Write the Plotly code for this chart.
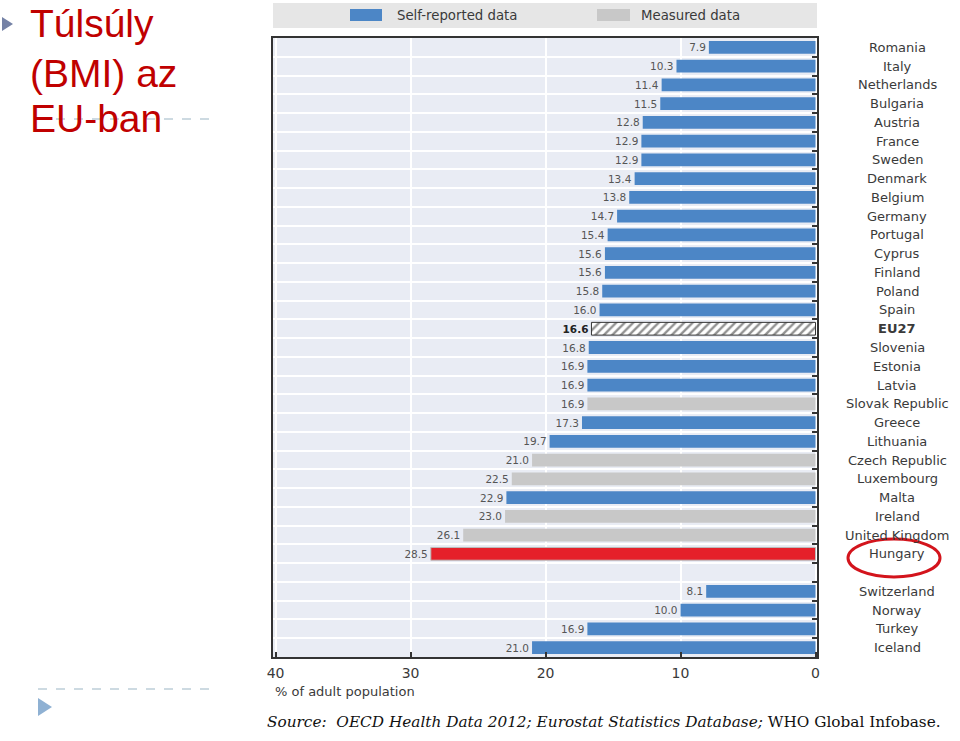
import plotly.graph_objects as go

# ---------------- data ----------------
countries = ["Romania", "Italy", "Netherlands", "Bulgaria", "Austria", "France", "Sweden",
             "Denmark", "Belgium", "Germany", "Portugal", "Cyprus", "Finland", "Poland",
             "Spain", "EU27", "Slovenia", "Estonia", "Latvia", "Slovak Republic", "Greece",
             "Lithuania", "Czech Republic", "Luxembourg", "Malta", "Ireland",
             "United Kingdom", "Hungary", "_gap_", "Switzerland", "Norway", "Turkey", "Iceland"]
values = [7.9, 10.3, 11.4, 11.5, 12.8, 12.9, 12.9, 13.4, 13.8, 14.7, 15.4, 15.6, 15.6, 15.8,
          16.0, 16.6, 16.8, 16.9, 16.9, 16.9, 17.3, 19.7, 21.0, 22.5, 22.9, 23.0, 26.1, 28.5,
          None, 8.1, 10.0, 16.9, 21.0]
# S = self-reported, M = measured, E = EU average, H = highlighted (Hungary)
data_type = ["S", "S", "S", "S", "S", "S", "S", "S", "S", "S", "S", "S", "S", "S", "S",
             "E", "S", "S", "S", "M", "S", "S", "M", "M", "S", "M", "M", "H",
             None, "S", "S", "S", "S"]
x_ticks = [0, 10, 20, 30, 40]
legend_labels = ["Self-reported data", "Measured data"]
title_lines = ["Túlsúly", "(BMI) az", "EU-ban"]
source_html = ("<i>Source:  OECD Health Data 2012; Eurostat Statistics Database;</i> "
               "WHO Global Infobase.")
x_title = "% of adult population"

# ---------------- layout helpers ----------------
W, H = 960, 741
L, R, T, B = 273, 817, 38, 657


def px(x):
    return (x - L) / (R - L)


def py(y):
    return (B - y) / (B - T)


BLUE = "#4C86C6"
GRAY = "#C8C8C8"
RED = "#E5202A"
TXT = "#3A3A3A"
FONT = "DejaVu Sans, Arial, sans-serif"


def subset(kind):
    ys, xs, ts = [], [], []
    for c, v, k in zip(countries, values, data_type):
        if k == kind:
            ys.append(c)
            xs.append(v)
            ts.append(f"<b>{v:.1f}</b>" if kind == "E" else f"{v:.1f}")
    return ys, xs, ts


fig = go.Figure()

common = dict(orientation="h", width=0.68, textposition="outside", cliponaxis=False,
              textfont=dict(size=10.5, color="#555555", family=FONT), hoverinfo="x+y")

ys, xs, ts = subset("S")
fig.add_trace(go.Bar(y=ys, x=xs, text=ts, name=legend_labels[0],
                     marker=dict(color=BLUE, line=dict(width=0)), **common))
ys, xs, ts = subset("M")
fig.add_trace(go.Bar(y=ys, x=xs, text=ts, name=legend_labels[1],
                     marker=dict(color=GRAY, line=dict(width=0)), **common))
ys, xs, ts = subset("E")
c2 = dict(common)
c2["textfont"] = dict(size=10.5, color="#222222", family=FONT)
fig.add_trace(go.Bar(y=ys, x=xs, text=ts, name="EU27",
                     marker=dict(color="white", line=dict(width=1, color="#333333"),
                                 pattern=dict(shape="/", fgcolor="#222222", bgcolor="white",
                                              size=6, solidity=0.4)), **c2))
ys, xs, ts = subset("H")
fig.add_trace(go.Bar(y=ys, x=xs, text=ts, name="Hungary",
                     marker=dict(color=RED, line=dict(width=1, color="#BBBBBB")), **common))

annotations = []
shapes = []

# country labels on the right
for c in countries:
    if c == "_gap_":
        continue
    annotations.append(dict(x=px(897), xref="paper", y=c, yref="y",
                            text=(f"<b>{c}</b>" if c == "EU27" else c),
                            showarrow=False, xanchor="center", yanchor="middle",
                            font=dict(size=13, color=TXT, family=FONT)))

# Hungary highlight ellipse
shapes.append(dict(type="circle", xref="paper", yref="paper",
                   x0=px(848), x1=px(940), y0=py(577), y1=py(539),
                   line=dict(color="#D3141C", width=3)))

# legend band
shapes.append(dict(type="rect", xref="paper", yref="paper", x0=px(273), x1=px(817),
                   y0=py(28), y1=py(3), fillcolor="#E6E6E6", line=dict(width=0), layer="below"))
shapes.append(dict(type="rect", xref="paper", yref="paper", x0=px(350), x1=px(382),
                   y0=py(21), y1=py(9), fillcolor=BLUE, line=dict(width=0)))
shapes.append(dict(type="rect", xref="paper", yref="paper", x0=px(597), x1=px(630),
                   y0=py(21), y1=py(9), fillcolor=GRAY, line=dict(width=0)))
annotations.append(dict(x=px(395), y=py(15), xref="paper", yref="paper", text=legend_labels[0],
                        showarrow=False, xanchor="left", yanchor="middle",
                        font=dict(size=13.3, color=TXT, family=FONT)))
annotations.append(dict(x=px(639), y=py(15), xref="paper", yref="paper", text=legend_labels[1],
                        showarrow=False, xanchor="left", yanchor="middle",
                        font=dict(size=13.3, color=TXT, family=FONT)))

# x axis title
annotations.append(dict(x=px(273), y=py(691), xref="paper", yref="paper", text=x_title,
                        showarrow=False, xanchor="left", yanchor="middle",
                        font=dict(size=13, color=TXT, family=FONT)))

# source
annotations.append(dict(x=px(265), y=py(722), xref="paper", yref="paper", text=source_html,
                        showarrow=False, xanchor="left", yanchor="middle",
                        font=dict(size=15.3, color="#111111", family="DejaVu Serif, serif")))

# slide title
for line, yc in zip(title_lines, [24, 73, 118]):
    annotations.append(dict(x=px(28), y=py(yc), xref="paper", yref="paper", text=line,
                            showarrow=False, xanchor="left", yanchor="middle",
                            font=dict(size=39, color="#C00000",
                                      family="Liberation Sans, Arial, sans-serif")))

# slide decorations
shapes.append(dict(type="path", xref="paper", yref="paper",
                   path=f"M {px(2)} {py(17)} L {px(13)} {py(24)} L {px(2)} {py(31)} Z",
                   fillcolor="#7582A6", line=dict(width=0)))
shapes.append(dict(type="line", xref="paper", yref="paper", x0=px(38), x1=px(211),
                   y0=py(119), y1=py(119), line=dict(color="#9BB5C4", width=1, dash="dash")))
shapes.append(dict(type="line", xref="paper", yref="paper", x0=px(38), x1=px(211),
                   y0=py(689), y1=py(689), line=dict(color="#9BB5C4", width=1, dash="dash")))
shapes.append(dict(type="path", xref="paper", yref="paper",
                   path=f"M {px(38)} {py(698)} L {px(52)} {py(707)} L {px(38)} {py(716)} Z",
                   fillcolor="#8FB1D3", line=dict(width=0)))

fig.update_layout(
    width=W, height=H,
    margin=dict(l=L, r=W - R, t=T, b=H - B),
    paper_bgcolor="white", plot_bgcolor="#E9ECF4",
    barmode="overlay", showlegend=False,
    font=dict(family=FONT, color=TXT),
    annotations=annotations, shapes=shapes,
    xaxis=dict(range=[40.19, -0.11], tickvals=x_ticks, ticktext=[str(v) for v in x_ticks],
               showgrid=True, gridcolor="white", gridwidth=2, zeroline=False,
               showline=True, mirror=True, linecolor="#333333", linewidth=2,
               ticks="inside", ticklen=5, tickcolor="#333333", tickwidth=1.5,
               ticklabelstandoff=2,
               tickfont=dict(size=14, color=TXT, family=FONT)),
    yaxis=dict(type="category", categoryorder="array", categoryarray=countries,
               range=[len(countries) - 0.5, -0.5], side="right",
               showticklabels=False, tickson="boundaries", ticks="inside", ticklen=5,
               tickcolor="#333333", tickwidth=1.5,
               showgrid=True, gridcolor="white", gridwidth=1.5,
               showline=True, mirror=True, linecolor="#333333", linewidth=2),
)

fig.write_html("out.html", config={"displayModeBar": False},
               post_script="document.body.style.margin='0';document.body.style.padding='0';")
